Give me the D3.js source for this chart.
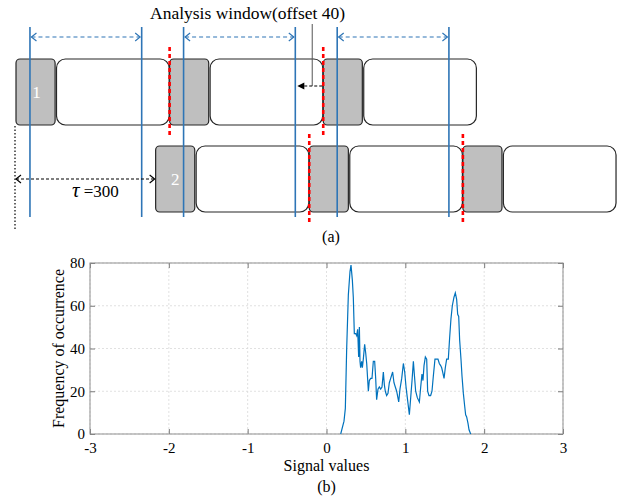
<!DOCTYPE html>
<html>
<head>
<meta charset="utf-8">
<title>Analysis window and histogram</title>
<script src="https://d3js.org/d3.v7.min.js"></script>
<style>
  body { margin: 0; background: #fff; }
  svg text { font-family: "Liberation Serif", "Times New Roman", "DejaVu Serif", serif; fill: #000; }
</style>
</head>
<body>
<div id="chart"></div>
<script>
"use strict"

// (a) frame schematic, everything in samples
var row1Starts = [0, 330, 660];
var row2Starts = [300, 630, 960];
var preambleLen = 84, payloadFrom = 87, payloadTo = 329;
var windowStarts = [30, 360, 690];
var windowLen = 240;
var row1Cuts = [330, 660];
var row2Cuts = [630, 960];
var tau = 300;
var offsetArrow = [660, 600];   // from cut back to window end

// (b) histogram of signal values
var signalValues = [0.180,0.222,0.239,0.256,0.277,0.298,0.311,0.328,0.340,0.353,
  0.370,0.383,0.395,0.408,0.417,0.425,0.433,0.446,0.455,0.467,
  0.484,0.497,0.510,0.531,0.543,0.560,0.577,0.594,0.611,0.624,
  0.636,0.653,0.670,0.687,0.704,0.721,0.734,0.746,0.763,0.780,
  0.797,0.814,0.839,0.856,0.873,0.890,0.916,0.932,0.954,0.975,
  0.992,1.009,1.025,1.051,1.068,1.085,1.102,1.114,1.131,1.152,
  1.178,1.195,1.211,1.224,1.237,1.254,1.271,1.283,1.300,1.321,
  1.338,1.355,1.376,1.398,1.414,1.431,1.448,1.461,1.474,1.491,
  1.507,1.524,1.545,1.562,1.579,1.596,1.617,1.634,1.651,1.664,
  1.677,1.689,1.706,1.719,1.736,1.753,1.765,1.778,1.795,1.808,1.829];
var frequency = [0,6,12,40,65,76,79,72,64,47,
  47,46,49,36,50,34,31,34,31,35,
  42,38,33,20,25,26,26,34,34,26,
  16,21,22,21,22,29,23,20,18,19,
  24,26,29,24,22,20,15,21,26,33,
  29,22,17,9,17,25,34,28,20,17,
  15,22,28,25,32,36,35,20,18,18,
  20,27,35,35,35,33,32,31,29,26,
  31,35,35,45,54,60,64,66,63,56,
  55,44,35,27,19,13,9,8,5,2,0];
var xTicks = [-3, -2, -1, 0, 1, 2, 3];
var yTicks = [0, 20, 40, 60, 80];

var serif = '"Liberation Serif", "Times New Roman", serif';
var W = 623, H = 502;
var svg = d3.select('#chart').append('svg')
  .attr('width', W).attr('height', H);
svg.append('rect').attr('width', W).attr('height', H).attr('fill', '#fff');

var blue = '#2e75b6';
var defs = svg.append('defs');
// arrow heads drawn pointing right, tip at 0
function chevron(id, color) {
  defs.append('marker').attr('id', id)
    .attr('viewBox', '-7 -5 8 10').attr('refX', 0).attr('refY', 0)
    .attr('markerWidth', 8).attr('markerHeight', 10)
    .attr('markerUnits', 'userSpaceOnUse').attr('orient', 'auto-start-reverse')
    .append('path').attr('d', 'M-5,-4L0,0L-5,4')
    .attr('fill', 'none').attr('stroke', color).attr('stroke-width', 1.2);
}
chevron('chevBlue', blue);
chevron('chevBlack', '#000');
defs.append('marker').attr('id', 'triBlack')
  .attr('viewBox', '-8 -4 9 8').attr('refX', 0).attr('refY', 0)
  .attr('markerWidth', 9).attr('markerHeight', 8)
  .attr('markerUnits', 'userSpaceOnUse').attr('orient', 'auto-start-reverse')
  .append('path').attr('d', 'M0,0L-7,-3.5L-7,3.5Z').attr('fill', '#000');

// ---------- (a) ----------
var s = d3.scaleLinear().domain([0, 1300]).range([16, 16 + 1300 * 0.4655]);
var rowTop = { 1: 59, 2: 146 }, rowH = 66;

var frames = row1Starts.map(d => ({ row: 1, start: d }))
  .concat(row2Starts.map(d => ({ row: 2, start: d })));

var gA = svg.append('g');
gA.selectAll('rect.pre').data(frames).enter().append('rect')
  .attr('x', d => s(d.start)).attr('width', s(preambleLen) - s(0))
  .attr('y', d => rowTop[d.row]).attr('height', rowH)
  .attr('rx', 4).attr('fill', '#bfbfbf').attr('stroke', '#262626').attr('stroke-width', 1.2);
gA.selectAll('rect.pay').data(frames).enter().append('rect')
  .attr('x', d => s(d.start + payloadFrom)).attr('width', s(payloadTo) - s(payloadFrom))
  .attr('y', d => rowTop[d.row]).attr('height', rowH)
  .attr('rx', 9).attr('fill', '#fff').attr('stroke', '#262626').attr('stroke-width', 1.2);

// frame numbers
gA.append('text').attr('x', s(preambleLen / 2) + 1).attr('y', rowTop[1] + rowH / 2 + 6)
  .attr('text-anchor', 'middle').style('font-family', serif).style('font-size', '17px')
  .style('fill', '#fff').text('1');
gA.append('text').attr('x', s(row2Starts[0] + preambleLen / 2)).attr('y', rowTop[2] + rowH / 2 + 6)
  .attr('text-anchor', 'middle').style('font-family', serif).style('font-size', '17px')
  .style('fill', '#fff').text('2');

// analysis windows
var edges = [];
windowStarts.forEach(w => { edges.push(w); edges.push(w + windowLen); });
gA.selectAll('line.win').data(edges).enter().append('line')
  .attr('x1', d => s(d)).attr('x2', d => s(d)).attr('y1', 27).attr('y2', 217)
  .attr('stroke', blue).attr('stroke-width', 1.6);
gA.selectAll('line.span').data(windowStarts).enter().append('line')
  .attr('x1', d => s(d) + 1.5).attr('x2', d => s(d + windowLen) - 1.5)
  .attr('y1', 37).attr('y2', 37)
  .attr('stroke', blue).attr('stroke-width', 1.2).attr('stroke-dasharray', '4,3')
  .attr('marker-start', 'url(#chevBlue)').attr('marker-end', 'url(#chevBlue)');

// frame cuts
gA.selectAll('line.cut1').data(row1Cuts).enter().append('line')
  .attr('x1', d => s(d)).attr('x2', d => s(d)).attr('y1', 47).attr('y2', 135)
  .attr('stroke', '#ff0000').attr('stroke-width', 2.6).attr('stroke-dasharray', '4,3');
gA.selectAll('line.cut2').data(row2Cuts).enter().append('line')
  .attr('x1', d => s(d)).attr('x2', d => s(d)).attr('y1', 134).attr('y2', 222)
  .attr('stroke', '#ff0000').attr('stroke-width', 2.6).attr('stroke-dasharray', '4,3');

// offset annotation
var offMid = s(offsetArrow[0]) - 11;
gA.append('line').attr('x1', offMid).attr('x2', offMid).attr('y1', 24).attr('y2', 86)
  .attr('stroke', '#555').attr('stroke-width', 1);
gA.append('line').attr('x1', s(offsetArrow[0]) - 1).attr('x2', s(offsetArrow[1]) + 2)
  .attr('y1', 86).attr('y2', 86)
  .attr('stroke', '#000').attr('stroke-width', 1.2).attr('stroke-dasharray', '3,2')
  .attr('marker-end', 'url(#triBlack)');
gA.append('text').attr('x', 150).attr('y', 19)
  .style('font-family', serif).style('font-size', '17.5px')
  .text('Analysis window(offset 40)');

// tau
gA.append('line').attr('x1', s(0) - 1).attr('x2', s(0) - 1).attr('y1', 126).attr('y2', 230)
  .attr('stroke', '#000').attr('stroke-width', 1.2).attr('stroke-dasharray', '1.5,2');
gA.append('line').attr('x1', s(0)).attr('x2', s(tau) - 1).attr('y1', 179).attr('y2', 179)
  .attr('stroke', '#000').attr('stroke-width', 1.2).attr('stroke-dasharray', '3,2')
  .attr('marker-start', 'url(#chevBlack)').attr('marker-end', 'url(#chevBlack)');
var tt = gA.append('text').attr('x', 72).attr('y', 197)
  .style('font-family', serif).style('font-size', '17px');
tt.append('tspan').style('font-style', 'italic').style('font-size', '21px').text('\u03c4');
tt.append('tspan').text(' =' + tau);

gA.append('text').attr('x', 331).attr('y', 242).attr('text-anchor', 'middle')
  .style('font-family', serif).style('font-size', '16px').text('(a)');

// ---------- (b) ----------
var m = { left: 90, top: 263, width: 473, height: 171 };
var x = d3.scaleLinear().domain([-3, 3]).range([m.left, m.left + m.width]);
var y = d3.scaleLinear().domain([0, 80]).range([m.top + m.height, m.top]);
var gB = svg.append('g');

// grid
gB.selectAll('line.gx').data(xTicks).enter().append('line')
  .attr('x1', d => x(d)).attr('x2', d => x(d)).attr('y1', m.top).attr('y2', m.top + m.height)
  .attr('stroke', '#d9d9d9').attr('stroke-width', 0.8).attr('stroke-dasharray', '2,2');
gB.selectAll('line.gy').data(yTicks).enter().append('line')
  .attr('x1', m.left).attr('x2', m.left + m.width).attr('y1', d => y(d)).attr('y2', d => y(d))
  .attr('stroke', '#d9d9d9').attr('stroke-width', 0.8).attr('stroke-dasharray', '2,2');

function styleAxis(g) {
  g.select('.domain').remove();
  g.selectAll('.tick line').attr('stroke', '#7a7a7a');
  g.selectAll('.tick text').style('font-family', serif).style('font-size', '15px').style('fill', '#000');
}
var plain = d => String(d);
gB.append('g').attr('transform', 'translate(0,' + (m.top + m.height) + ')')
  .call(d3.axisBottom(x).tickValues(xTicks).tickFormat(plain).tickSize(-5).tickPadding(8))
  .call(styleAxis);
gB.append('g').attr('transform', 'translate(0,' + m.top + ')')
  .call(d3.axisTop(x).tickValues(xTicks).tickSize(-5).tickFormat('')).call(styleAxis);
gB.append('g').attr('transform', 'translate(' + m.left + ',0)')
  .call(d3.axisLeft(y).tickValues(yTicks).tickFormat(plain).tickSize(-5).tickPadding(5))
  .call(styleAxis);
gB.append('g').attr('transform', 'translate(' + (m.left + m.width) + ',0)')
  .call(d3.axisRight(y).tickValues(yTicks).tickSize(-5).tickFormat('')).call(styleAxis);

gB.append('rect').attr('x', m.left).attr('y', m.top).attr('width', m.width).attr('height', m.height)
  .attr('fill', 'none').attr('stroke', '#8f8f8f').attr('stroke-width', 1);

var pts = signalValues.map((v, i) => [v, frequency[i]]);
gB.append('path').datum(pts)
  .attr('d', d3.line().x(d => x(d[0])).y(d => y(d[1])))
  .attr('fill', 'none').attr('stroke', '#0072bd').attr('stroke-width', 1.2);

gB.append('text').attr('x', x(0)).attr('y', 471).attr('text-anchor', 'middle')
  .style('font-family', serif).style('font-size', '16px').text('Signal values');
gB.append('text').attr('transform', 'translate(64,' + (m.top + m.height / 2) + ') rotate(-90)')
  .attr('text-anchor', 'middle').style('font-family', serif).style('font-size', '16px')
  .text('Frequency of occurrence');
gB.append('text').attr('x', x(0)).attr('y', 492).attr('text-anchor', 'middle')
  .style('font-family', serif).style('font-size', '16px').text('(b)');
</script>
</body>
</html>
